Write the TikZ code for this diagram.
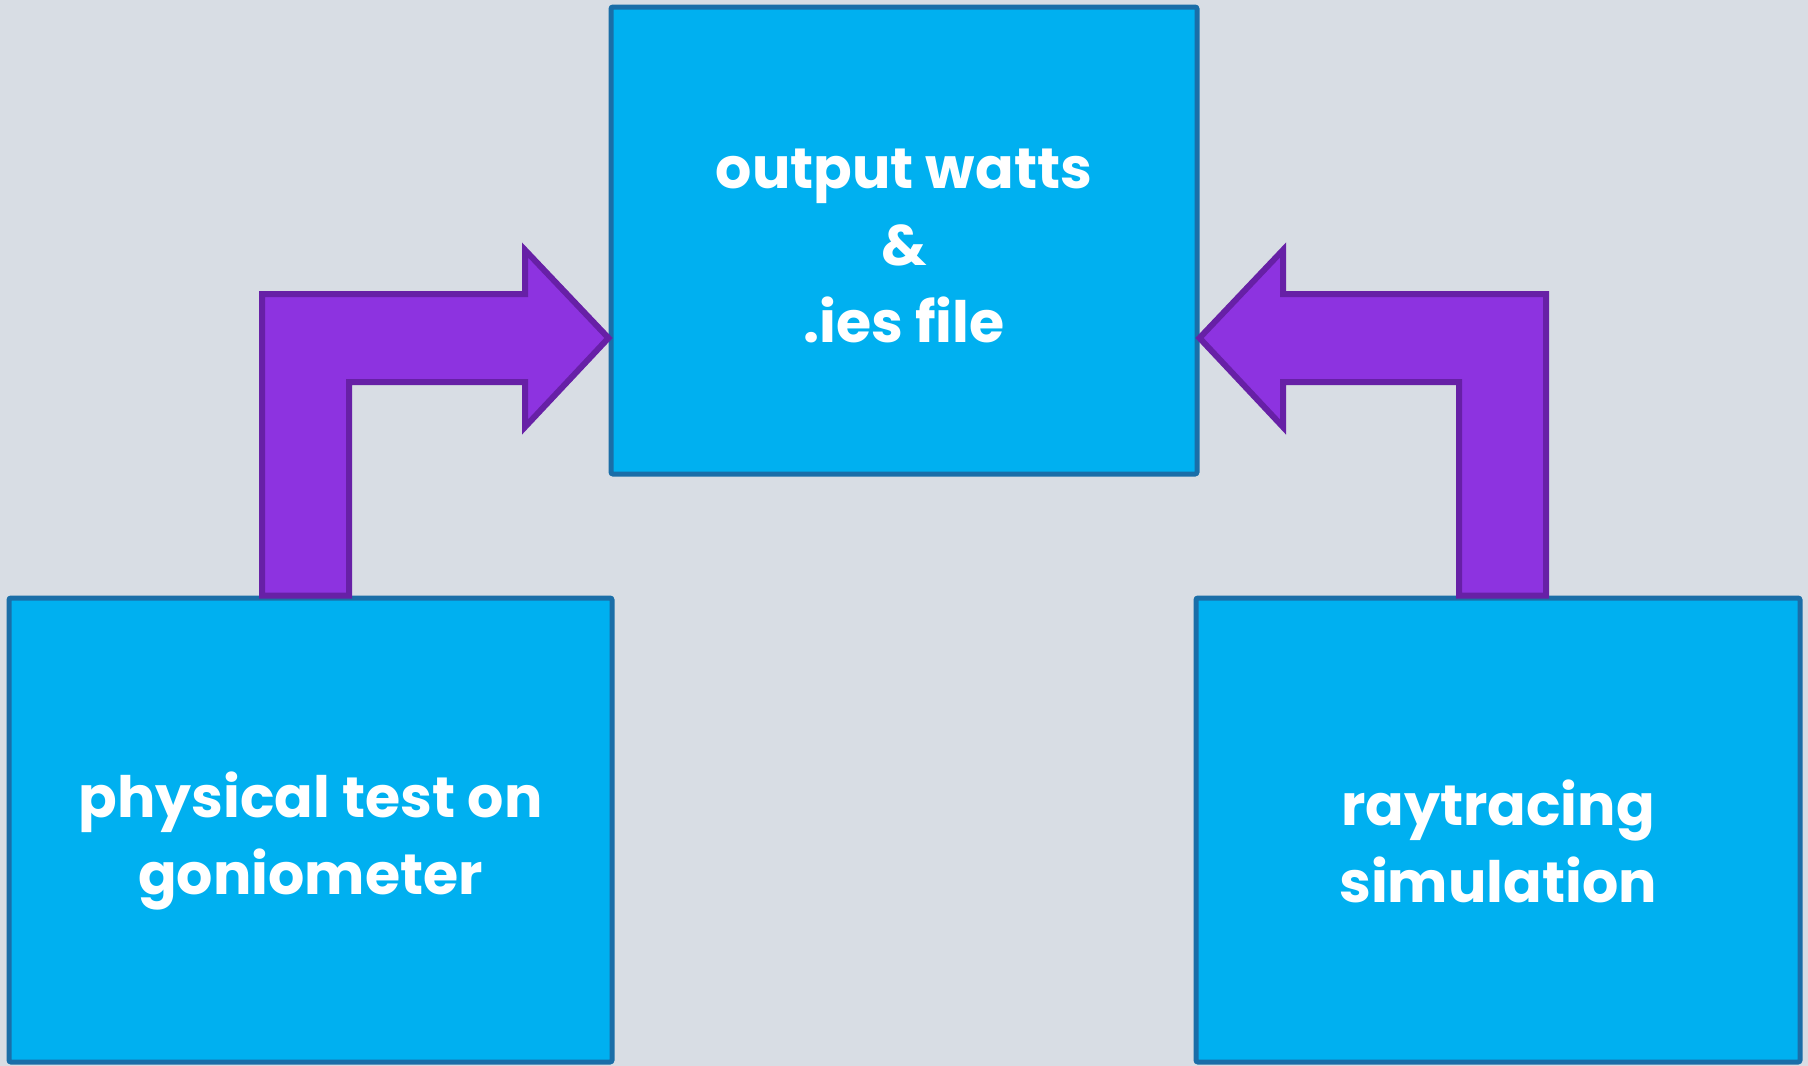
\documentclass[tikz,border=0pt]{standalone}
\usepackage{fontspec}
\setmainfont{Poppins}
\usetikzlibrary{calc}
\definecolor{bgc}{HTML}{D8DDE4}
\definecolor{boxfill}{HTML}{00B0F0}
\definecolor{boxline}{HTML}{1A6EA8}
\definecolor{arrfill}{HTML}{8D33E0}
\definecolor{arrline}{HTML}{6720A6}
\tikzset{
  block/.style={draw=boxline, fill=boxfill, line width=5pt, rounded corners=2pt,
    inner sep=0pt, align=center, text=white,
    font=\fontsize{57}{77}\selectfont\bfseries},
  bigarrow/.style={draw=arrline, fill=arrfill, line width=6pt, line join=miter}
}
\begin{document}
\begin{tikzpicture}[x=1pt,y=-1pt]
\fill[bgc] (0,0) rectangle (1808,1066);
\useasboundingbox (0,0) rectangle (1808,1066);
\node[block, minimum width=586pt, minimum height=467pt] (top) at (904,240.5)
  {\parbox{500pt}{\centering\vspace*{10pt}output watts\\\&\\.ies file}};
\node[block, minimum width=603pt, minimum height=464pt] (left) at (310.5,830)
  {\parbox{560pt}{\centering\vspace*{22pt}physical test on\\goniometer}};
\node[block, minimum width=604pt, minimum height=464pt] (right) at (1498,830)
  {\parbox{560pt}{\centering\vspace*{22pt}raytracing\\simulation}};
\coordinate (tipL) at (top.west |- 0,338);
\coordinate (tipR) at (top.east |- 0,338);
\draw[bigarrow] (left.north -| 262,0) -- (262,294) -- (525,294) -- (525,250) -- (tipL)
  -- (525,427) -- (525,382) -- (349,382) -- (left.north -| 349,0) -- cycle;
\draw[bigarrow] (right.north -| 1546,0) -- (1546,294) -- (1283,294) -- (1283,250) -- (tipR)
  -- (1283,427) -- (1283,382) -- (1459,382) -- (right.north -| 1459,0) -- cycle;
\end{tikzpicture}
\end{document}
